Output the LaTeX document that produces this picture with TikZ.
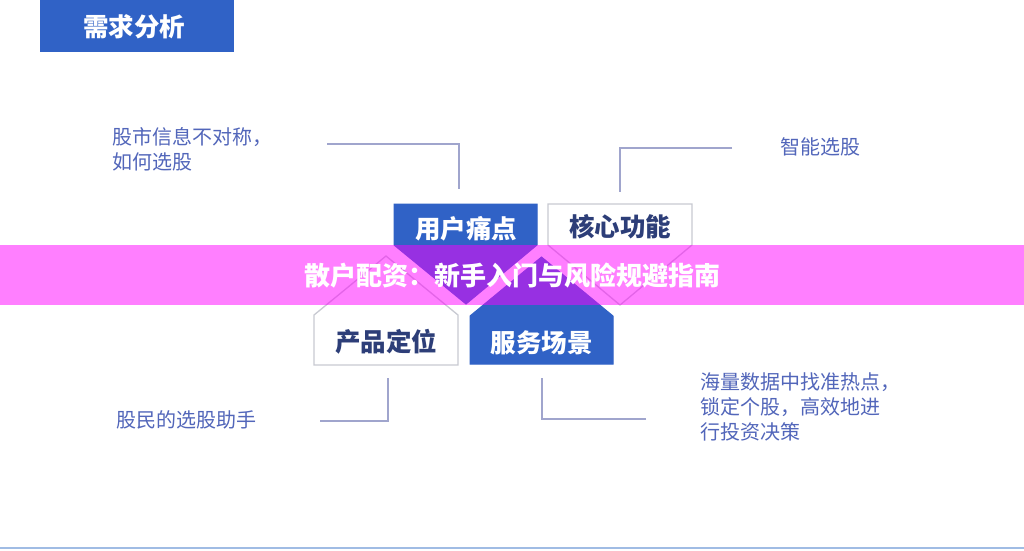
\documentclass[tikz,border=0pt]{standalone}
\usepackage{fontspec}
\newfontfamily\cjk{Noto Sans CJK SC}
\usetikzlibrary{calc}
\definecolor{mainblue}{RGB}{48,98,198}
\definecolor{navy}{RGB}{45,62,120}
\definecolor{edgegray}{RGB}{200,202,210}
\definecolor{leadc}{RGB}{160,165,205}
\definecolor{notec}{RGB}{82,102,186}
\definecolor{bandc}{RGB}{255,0,255}
\definecolor{basecol}{RGB}{160,188,228}
\tikzset{
  bluepiece/.style={fill=mainblue, draw=mainblue, line width=1pt},
  whitepiece/.style={fill=white, draw=edgegray, line width=1.3pt},
  bluetext/.style={font=\cjk\bfseries\fontsize{25.5}{30}\selectfont, text=white, inner sep=0pt},
  whitetext/.style={font=\cjk\bfseries\fontsize{25.5}{30}\selectfont, text=navy, inner sep=0pt},
  note/.style={font=\cjk\fontsize{20}{25}\selectfont, text=notec, inner sep=0pt, anchor=west, align=left},
  lead/.style={draw=leadc, line width=1.2pt},
}
\begin{document}
\begin{tikzpicture}[x=1pt,y=-1pt]
\useasboundingbox (0,0) rectangle (1024,550);
\fill[white] (0,0) rectangle (1024,550);
% header
\fill[mainblue] (40,0) rectangle (234,52);
\node[bluetext] (title) at (134,27) {需求分析};
% pieces
\path[bluepiece] (394,204) -- (537,204) -- (537,245) -- (466,304) -- (394,245) -- cycle;
\path[whitepiece] (548,204) -- (692,204) -- (692,245) -- (620,305) -- (548,245) -- cycle;
\path[whitepiece] (314,365) -- (458,365) -- (458,315) -- (386,256) -- (314,315) -- cycle;
\path[bluepiece] (470,364) -- (613,364) -- (613,316) -- (541.5,257) -- (470,316) -- cycle;
\node[bluetext] (pain) at (466,229) {用户痛点};
\node[whitetext] (core) at (620,227) {核心功能};
\node[whitetext] (prod) at (386,342) {产品定位};
\node[bluetext] (serv) at (541.5,343) {服务场景};
% notes
\node[note] (n1) at (112,149) {股市信息不对称，\\如何选股};
\node[note] (n2) at (780,147) {智能选股};
\node[note] (n3) at (116,420) {股民的选股助手};
\node[note] (n4) at (700,407) {海量数据中找准热点，\\锁定个股，高效地进\\行投资决策};
% leaders
\coordinate (a1) at (327,144); \coordinate (b1) at (459,189);
\coordinate (a2) at (732,148); \coordinate (b2) at (620,192);
\coordinate (a3) at (320,421); \coordinate (b3) at (388,378);
\coordinate (a4) at (646,419); \coordinate (b4) at (542,378);
\draw[lead] (a1) -| (b1);
\draw[lead] (a2) -| (b2);
\draw[lead] (a3) -| (b3);
\draw[lead] (a4) -| (b4);
% banner
\fill[bandc, opacity=0.5] (0,245) rectangle (1024,305);
\node[font=\cjk\bfseries\fontsize{26}{30}\selectfont, text=white, inner sep=0pt] (band) at (512,276) {散户配资：新手入门与风险规避指南};
% base line
\fill[color=basecol] (0,546.5) rectangle (1024,548.5);
\end{tikzpicture}
\end{document}
